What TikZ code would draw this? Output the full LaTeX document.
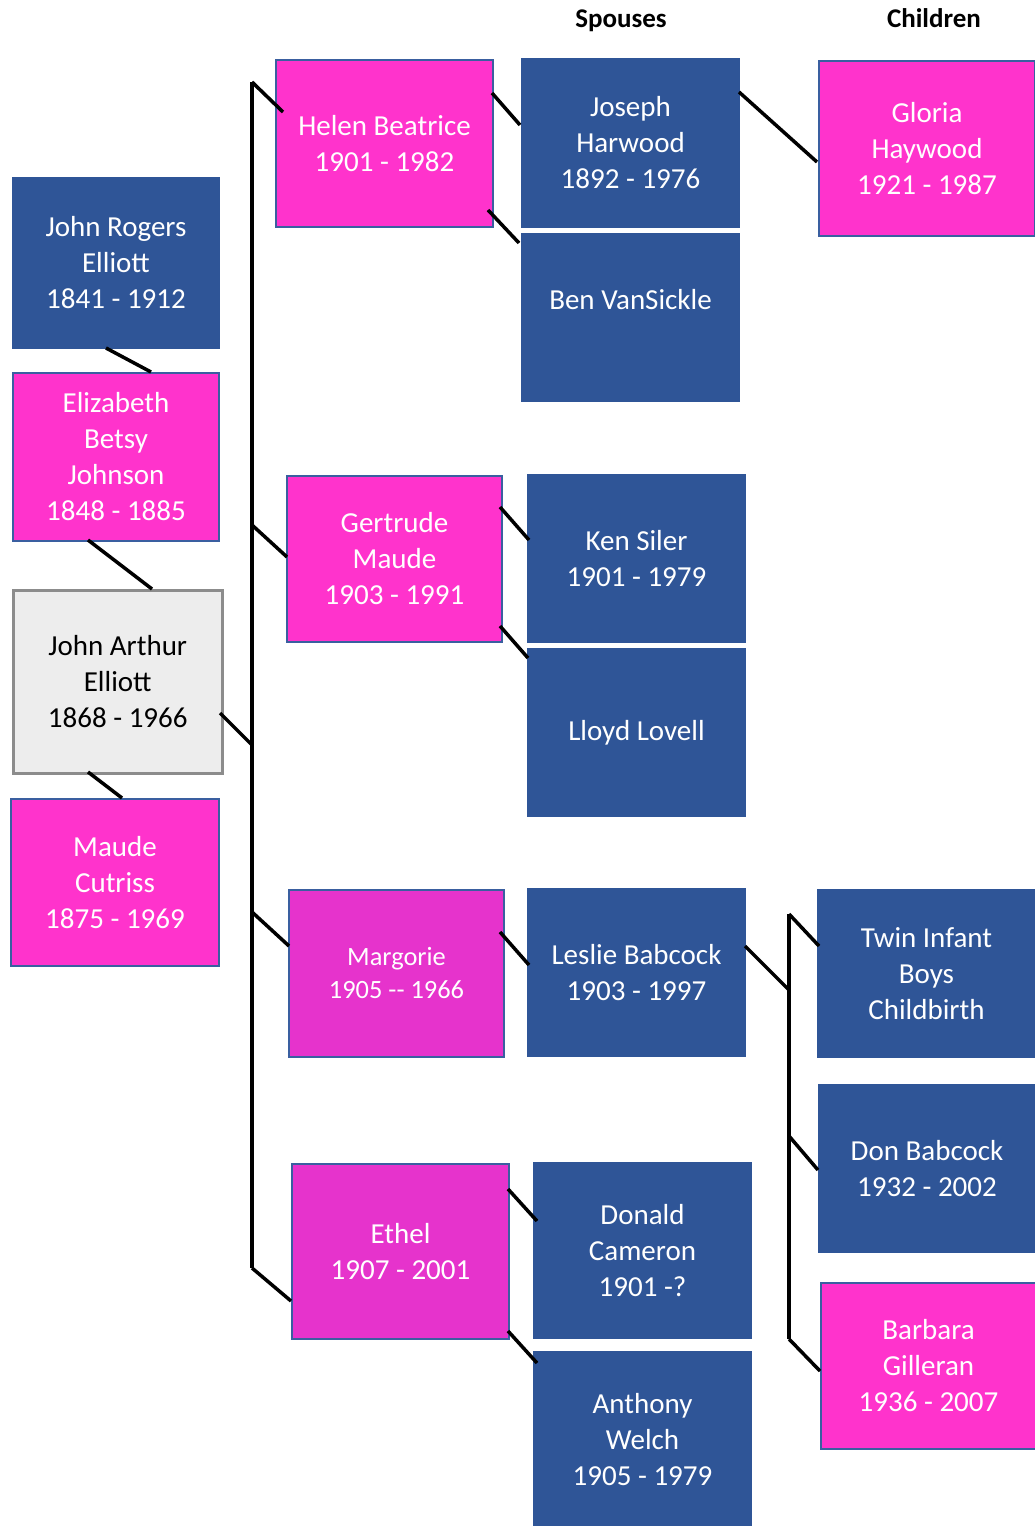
\documentclass[tikz,border=0pt]{standalone}
\usepackage{fontspec}
\setmainfont{Carlito}
\definecolor{boxblue}{HTML}{2F5597}
\definecolor{boxpink}{HTML}{FF33CC}
\definecolor{boxmag}{HTML}{E633CC}
\definecolor{pinkedge}{HTML}{3A5FA0}
\definecolor{greyfill}{HTML}{EDEDED}
\definecolor{greyedge}{HTML}{8C8C8C}
\tikzset{
  person/.style={anchor=north west, inner sep=0pt, align=center, text=white,
    font=\fontsize{29}{36}\selectfont},
  bluebox/.style={person, fill=boxblue, draw=boxblue, line width=1pt},
  pinkbox/.style={person, fill=boxpink, draw=pinkedge, line width=2pt},
  magbox/.style={person, fill=boxmag, draw=pinkedge, line width=2pt},
  greybox/.style={person, fill=greyfill, draw=greyedge, line width=2.5pt, text=black},
  link/.style={line width=3.5pt, black},
  header/.style={anchor=base, inner sep=0pt, font=\fontsize{27}{32}\selectfont\bfseries, text=black}
}
\begin{document}
\begin{tikzpicture}[x=1pt, y=-1pt]
\useasboundingbox (0,0) rectangle (1035,1526);
\fill[white] (0,0) rectangle (1035,1526);

% headers
\node[header] (hsp) at (621,27) {Spouses};
\node[header] (hch) at (934,27) {Children};

% ancestors column
\node[bluebox, minimum width=207pt, minimum height=171pt] (jre) at (12,177) {John Rogers\\Elliott\\1841 - 1912};
\node[pinkbox, minimum width=206pt, minimum height=168pt] (ebj) at (12,372) {Elizabeth\\Betsy\\Johnson\\1848 - 1885};
\node[greybox, minimum width=209pt, minimum height=183pt] (jae) at (12,589) {John Arthur\\Elliott\\1868 - 1966};
\node[pinkbox, minimum width=208pt, minimum height=167pt] (mc) at (10,798) {Maude\\Cutriss\\1875 - 1969};

% children column
\node[pinkbox, minimum width=217pt, minimum height=167pt] (hb) at (275,59) {Helen Beatrice\\1901 - 1982};
\node[pinkbox, minimum width=215pt, minimum height=166pt] (gm) at (286,475) {Gertrude\\Maude\\1903 - 1991};
\node[magbox, minimum width=215pt, minimum height=167pt, font=\fontsize{26.4}{33}\selectfont] (mg) at (288,889) {Margorie\\1905 -{}- 1966};
\node[magbox, minimum width=217pt, minimum height=175pt] (et) at (291,1163) {Ethel\\1907 - 2001};

% spouses column
\node[bluebox, minimum width=218pt, minimum height=169pt] (jh) at (521,58) {Joseph\\Harwood\\1892 - 1976};
\node[bluebox, minimum width=218pt, minimum height=168pt] (bv) at (521,233) {Ben VanSickle\\\mbox{}};
\node[bluebox, minimum width=218pt, minimum height=168pt] (ks) at (527,474) {Ken Siler\\1901 - 1979};
\node[bluebox, minimum width=218pt, minimum height=168pt] (ll) at (527,648) {Lloyd Lovell};
\node[bluebox, minimum width=218pt, minimum height=168pt] (lb) at (527,888) {Leslie Babcock\\1903 - 1997};
\node[bluebox, minimum width=218pt, minimum height=176pt] (dc) at (533,1162) {Donald\\Cameron\\1901 -?};
\node[bluebox, minimum width=218pt, minimum height=176pt] (aw) at (533,1351) {Anthony\\Welch\\1905 - 1979};

% grandchildren column
\node[pinkbox, minimum width=216pt, minimum height=175pt] (gh) at (818,60) {Gloria\\Haywood\\1921 - 1987};
\node[bluebox, minimum width=218pt, minimum height=168pt] (tw) at (817,889) {Twin Infant\\Boys\\Childbirth};
\node[bluebox, minimum width=217pt, minimum height=168pt] (db) at (818,1084) {Don Babcock\\1932 - 2002};
\node[pinkbox, minimum width=215pt, minimum height=166pt] (bg) at (820,1282) {Barbara\\Gilleran\\1936 - 2007};

% trunk coordinates
\coordinate (t1) at (252,82);
\coordinate (t2) at (252,525);
\coordinate (t3) at (252,745);
\coordinate (t4) at (252,912);
\coordinate (t5) at (252,1268);
\coordinate (c1) at (789,914);
\coordinate (c2) at (789,990);
\coordinate (c3) at (789,1136);
\coordinate (c4) at (789,1339);

% trunks
\draw[link] (t1) -- (t5);
\draw[link] (c1) -- (c4);

% ancestors
\draw[link] (106,348) -- (151,372);
\draw[link] (88,540) -- (152,589);
\draw[link] (88,772) -- (122,798);
\draw[link] (220,713) -- (t3);

% trunk to children
\draw[link] (t1) -- (283,112);
\draw[link] (t2) -- (287,557);
\draw[link] (t4) -- (289,946);
\draw[link] (t5) -- (291,1301);

% children to spouses
\draw[link] (492,93) -- (520,125);
\draw[link] (488,210) -- (519,243);
\draw[link] (500,507) -- (529,540);
\draw[link] (500,626) -- (528,658);
\draw[link] (500,932) -- (529,965);
\draw[link] (508,1189) -- (537,1221);
\draw[link] (508,1331) -- (537,1363);

% spouses to grandchildren
\draw[link] (739,92) -- (817,162);
\draw[link] (745,946) -- (c2);
\draw[link] (c1) -- (819,946);
\draw[link] (c3) -- (818,1170);
\draw[link] (c4) -- (820,1371);
\end{tikzpicture}
\end{document}
